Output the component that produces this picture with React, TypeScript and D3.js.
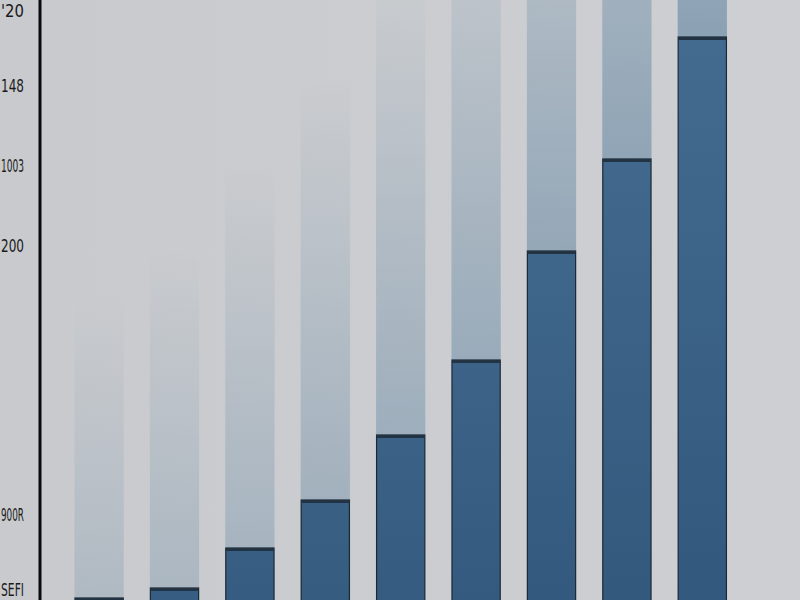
import React from "react";
import * as d3 from "d3";

const categories = ["C1", "C2", "C3", "C4", "C5", "C6", "C7", "C8", "C9"];
const values = [4, 24, 104, 200, 330, 480, 698, 882, 1126];
const tickValues = [1178, 1028, 868, 708, 170, 20];
const tickLabels = ["'20", "148", "1003", "200", "900R", "SEFI"];

const W = 800;
const H = 600;

export default function App() {
  const x = d3.scaleBand<string>().domain(categories).range([61.4, 740]).paddingInner(0.36).paddingOuter(0.18);
  const y = d3.scaleLinear().domain([0, 1200]).range([H, 0]);
  const shade = d3.scaleLinear<string>().domain([0, categories.length - 1]).range(["#50799c", "#446c91"]);

  return (
    <div style={{ position: "fixed", left: 0, top: 0, width: W, height: H }}>
      <svg width={W} height={H} style={{ display: "block" }}>
        <defs>
          <linearGradient id="bg" x1="0" x2="1" y1="0" y2="0">
            <stop offset="0" stopColor="#c8cacd" />
            <stop offset="1" stopColor="#cdcfd2" />
          </linearGradient>
          {categories.map((c, i) => (
            <linearGradient key={c} id={`dark${i}`} x1="0" x2="0" y1="0" y2={H} gradientUnits="userSpaceOnUse">
              <stop offset="0" stopColor={shade(i)} />
              <stop offset="1" stopColor={d3.interpolateRgb(shade(i), "#1f4468")(0.5)} />
            </linearGradient>
          ))}
          {categories.map((c, i) => {
            const top = y(values[i]);
            const a = 0.3 + 0.056 * i;
            const L = 300 + 40 * i;
            return (
              <linearGradient key={c} id={`ghost${i}`} x1="0" x2="0" y1={top - L} y2={top} gradientUnits="userSpaceOnUse">
                <stop offset="0" stopColor="#7592aa" stopOpacity={0} />
                <stop offset="1" stopColor="#7592aa" stopOpacity={a} />
              </linearGradient>
            );
          })}
        </defs>
        <rect x={0} y={0} width={W} height={H} fill="url(#bg)" />
        {categories.map((c, i) => {
          const x0 = x(c) as number;
          const bw = x.bandwidth();
          const top = y(values[i]);
          return (
            <g key={c}>
              <rect x={x0 - 0.5} y={0} width={bw + 1} height={top} fill={`url(#ghost${i})`} />
              <rect x={x0} y={top} width={bw} height={H - top + 2} fill={`url(#dark${i})`} stroke="#1b2836" strokeWidth={1.2} />
              <rect x={x0} y={top} width={bw} height={3} fill="#223344" />
            </g>
          );
        })}
        <line x1={40} x2={40} y1={0} y2={H} stroke="#0a0a0a" strokeWidth={3} />
        {tickValues.map((v, i) => (
          <text
            key={v}
            x={1}
            y={y(v)}
            dy="0.36em"
            textLength={23}
            lengthAdjust="spacingAndGlyphs"
            fontFamily="'DejaVu Sans', sans-serif"
            fontSize={18}
            fill="#1a1a1a"
          >
            {tickLabels[i]}
          </text>
        ))}
      </svg>
    </div>
  );
}
